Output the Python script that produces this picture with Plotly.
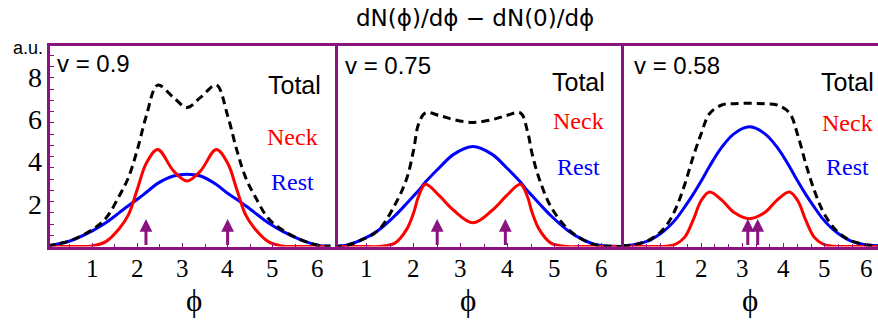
import plotly.graph_objects as go

# ---------------- data ----------------
panel_labels = ["v = 0.9", "v = 0.75", "v = 0.58"]
series_names = ["Total", "Neck", "Rest"]
x_ticks = [1, 2, 3, 4, 5, 6]
y_ticks = [2, 4, 6, 8]

phi1 = [0, 0.5, 1.0, 1.3, 1.6, 1.8, 2.0, 2.2, 2.45, 2.8, 3.1, 3.4, 3.75, 4.0, 4.2, 4.4, 4.6, 4.9, 5.2, 5.6, 6.0, 6.28]
rest1 = [0.02, 0.26, 0.74, 1.12, 1.6, 1.92, 2.23, 2.56, 2.98, 3.33, 3.41, 3.33, 2.93, 2.51, 2.23, 1.92, 1.6, 1.12, 0.74, 0.34, 0.06, 0.01]
neck1 = [0, 0, 0.03, 0.23, 0.85, 1.49, 2.72, 3.94, 4.58, 3.57, 3.09, 3.57, 4.58, 3.94, 2.72, 1.49, 0.85, 0.23, 0.03, 0, 0, 0]
total1 = [0.03, 0.27, 0.8, 1.33, 2.4, 3.25, 4.58, 6.18, 7.62, 7.04, 6.56, 7.04, 7.62, 6.18, 4.58, 3.25, 2.4, 1.33, 0.8, 0.34, 0.06, 0.02]
arrows1 = [2.19, 4.0]

phi2 = [0.3, 0.6, 0.9, 1.25, 1.6, 1.85, 2.0, 2.1, 2.25, 2.55, 2.85, 3.26, 3.67, 3.97, 4.27, 4.42, 4.52, 4.67, 4.92, 5.27, 5.6, 5.9, 6.45]
rest2 = [0, 0.07, 0.32, 0.77, 1.45, 2.03, 2.4, 2.63, 3.04, 3.73, 4.35, 4.72, 4.35, 3.73, 3.04, 2.63, 2.4, 2.03, 1.45, 0.77, 0.32, 0.07, 0]
neck2 = [0, 0, 0, 0, 0.16, 0.81, 1.6, 2.35, 2.94, 2.39, 1.71, 1.12, 1.71, 2.39, 2.94, 2.35, 1.6, 0.81, 0.16, 0, 0, 0, 0]
total2 = [0, 0.07, 0.32, 0.77, 1.97, 3.2, 4.58, 5.76, 6.31, 6.18, 5.99, 5.86, 5.99, 6.18, 6.31, 5.44, 4.37, 3.2, 1.87, 0.85, 0.32, 0.07, 0]
arrows2 = [2.5, 3.95]

phi3 = [0.08, 0.4, 0.7, 1.0, 1.2, 1.4, 1.6, 1.8, 2.0, 2.2, 2.5, 2.8, 3.17, 3.54, 3.84, 4.14, 4.34, 4.54, 4.74, 4.94, 5.14, 5.34, 5.64, 5.94, 6.29]
rest3 = [0.03, 0.1, 0.25, 0.59, 0.91, 1.33, 1.87, 2.45, 3.09, 3.78, 4.69, 5.33, 5.65, 5.33, 4.69, 3.78, 3.09, 2.45, 1.87, 1.33, 0.91, 0.59, 0.25, 0.1, 0.03]
neck3 = [0, 0, 0, 0, 0.02, 0.13, 0.44, 1.23, 2.17, 2.57, 2.19, 1.6, 1.31, 1.6, 2.19, 2.57, 2.17, 1.23, 0.44, 0.13, 0.02, 0, 0, 0, 0]
total3 = [0.03, 0.1, 0.27, 0.66, 1.12, 1.87, 2.93, 4.21, 5.33, 6.27, 6.68, 6.74, 6.76, 6.74, 6.68, 6.31, 5.28, 3.89, 2.67, 1.71, 1.07, 0.64, 0.27, 0.1, 0.03]
arrows3 = [3.13, 3.37]
arrow_tip = 1.3

# ---------------- style ----------------
W, H = 878, 320
PURPLE = "#8A137F"
RED = "#FF0000"
BLUE = "#0000FF"
SANS = "Liberation Sans"
SERIF = "Liberation Serif"
LW = 3

def px(x):
    return x / W

def py(y):
    return 1 - y / H

panels = [
    dict(phi=phi1, rest=rest1, neck=neck1, total=total1, arrows=arrows1,
         dom=(49.5, 334.5), xr=(0.051, 6.37), minor=0.5, label_xy=(55, 63), tot_xy=(294, 85),
         neck_xy=(292, 137), rest_xy=(292, 182), phi_x=194),
    dict(phi=phi2, rest=rest2, neck=neck2, total=total2, arrows=arrows2,
         dom=(337.5, 621), xr=(0.379, 6.41), minor=0.5, label_xy=(343, 65), tot_xy=(578, 82),
         neck_xy=(578, 121), rest_xy=(578, 167), phi_x=468),
    dict(phi=phi3, rest=rest3, neck=neck3, total=total3, arrows=arrows3,
         dom=(624, 878), xr=(0.126, 6.29), minor=1 / 3, label_xy=(632, 65), tot_xy=(847, 82),
         neck_xy=(847, 123), rest_xy=(847, 167), phi_x=750),
]

fig = go.Figure()
annotations = []
ydom = [py(246.5), py(45.5)]

for i, p in enumerate(panels):
    n = "" if i == 0 else str(i + 1)
    xa, ya = "x" + n, "y" + n
    fig.add_trace(go.Scatter(x=p["phi"], y=p["rest"], mode="lines", name="Rest",
                             line=dict(color=BLUE, width=3, shape="spline", smoothing=1.0),
                             xaxis=xa, yaxis=ya, showlegend=False))
    fig.add_trace(go.Scatter(x=p["phi"], y=p["neck"], mode="lines", name="Neck",
                             line=dict(color=RED, width=3, shape="spline", smoothing=1.0),
                             xaxis=xa, yaxis=ya, showlegend=False))
    fig.add_trace(go.Scatter(x=p["phi"], y=p["total"], mode="lines", name="Total",
                             line=dict(color="black", width=3, dash="8px,5px", shape="spline", smoothing=1.0),
                             xaxis=xa, yaxis=ya, showlegend=False))

    fig.layout["xaxis" + n] = dict(
        domain=[px(p["dom"][0]), px(p["dom"][1])], range=list(p["xr"]), anchor=ya,
        tickvals=x_ticks, ticks="inside", ticklen=4, tickwidth=1, tickcolor=PURPLE,
        minor=dict(dtick=p["minor"], tick0=0, ticks="inside", ticklen=3, tickcolor=PURPLE),
        showline=True, linecolor=PURPLE, linewidth=LW, mirror=True,
        showgrid=False, zeroline=False, showticklabels=False,
    )
    fig.layout["yaxis" + n] = dict(
        domain=ydom, range=[0, 9.49], anchor=xa,
        tick0=0, dtick=0.531, ticks="inside" if i == 0 else "", ticklen=4, tickcolor=PURPLE,
        showticklabels=False, showline=True, linecolor=PURPLE, linewidth=LW,
        mirror=False, showgrid=False, zeroline=False,
    )

    # x tick labels placed on the axis scale
    for t in x_ticks:
        annotations.append(dict(x=t, y=py(268), xref=xa, yref="paper", text=str(t),
                                showarrow=False, xanchor="center", yanchor="middle",
                                font=dict(family=SERIF, size=25, color="black")))

    # arrows
    for a in p["arrows"]:
        annotations.append(dict(x=a, y=arrow_tip, ax=a, ay=0, xref=xa, yref=ya,
                                axref=xa, ayref=ya, text="", showarrow=True,
                                arrowhead=2, arrowsize=0.85, arrowwidth=3,
                                arrowcolor=PURPLE, standoff=0, startstandoff=0))

    # texts
    lx, ly = p["label_xy"]
    annotations.append(dict(x=px(lx), y=py(ly), xref="paper", yref="paper",
                            text=panel_labels[i], showarrow=False, xanchor="left",
                            yanchor="middle", font=dict(family=SANS, size=24, color="black")))
    tx, ty = p["tot_xy"]
    annotations.append(dict(x=px(tx), y=py(ty), xref="paper", yref="paper",
                            text=series_names[0], showarrow=False, xanchor="center",
                            yanchor="middle", font=dict(family=SANS, size=25, color="black")))
    nx, ny = p["neck_xy"]
    annotations.append(dict(x=px(nx), y=py(ny), xref="paper", yref="paper",
                            text=series_names[1], showarrow=False, xanchor="center",
                            yanchor="middle", font=dict(family=SERIF, size=24, color=RED)))
    rx, ry = p["rest_xy"]
    annotations.append(dict(x=px(rx), y=py(ry), xref="paper", yref="paper",
                            text=series_names[2], showarrow=False, xanchor="center",
                            yanchor="middle", font=dict(family=SERIF, size=24, color=BLUE)))
    annotations.append(dict(x=px(p["phi_x"]), y=py(300.5), xref="paper", yref="paper",
                            text="ϕ", showarrow=False, xanchor="center",
                            yanchor="middle", font=dict(family=SERIF, size=31, color="black")))

# y tick labels for first panel
for t in y_ticks:
    annotations.append(dict(x=px(44), y=t, xref="paper", yref="y", text=str(t),
                            showarrow=False, xanchor="right", yanchor="middle",
                            font=dict(family=SERIF, size=28, color="black")))

annotations.append(dict(x=px(45), y=py(48), xref="paper", yref="paper", text="a.u.",
                        showarrow=False, xanchor="right", yanchor="middle",
                        font=dict(family=SANS, size=18, color="black")))
annotations.append(dict(x=px(475), y=py(18), xref="paper", yref="paper",
                        text="dN(ϕ)/dϕ − dN(0)/dϕ", showarrow=False, xanchor="center",
                        yanchor="middle", font=dict(family="DejaVu Sans", size=23, color="black")))

fig.update_layout(width=W, height=H, margin=dict(l=0, r=0, t=0, b=0),
                  paper_bgcolor="white", plot_bgcolor="white",
                  annotations=annotations, showlegend=False)

fig.write_html("out.html")
